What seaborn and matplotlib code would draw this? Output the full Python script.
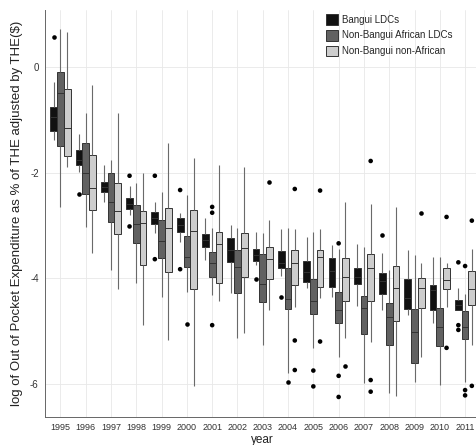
import pandas as pd
import matplotlib
matplotlib.use("Agg")
import matplotlib.pyplot as plt
import seaborn as sns

years = [str(y) for y in range(1995, 2012)]
groups = ["Bangui LDCs", "Non-Bangui African LDCs", "Non-Bangui non-African"]
colors = ["#111111", "#616161", "#cdcdcd"]

# five-number summaries (whisker low, Q1, median, Q3, whisker high)
bangui_lo = [-1.38, -1.98, -2.55, -2.80, -3.15, -3.31, -3.66, -4.28, -3.75, -3.95, -4.19, -4.36, -4.53, -4.60, -4.70, -4.85, -4.60]
bangui_q1 = [-1.22, -1.86, -2.37, -2.69, -2.97, -3.12, -3.40, -3.69, -3.67, -3.81, -4.07, -4.16, -4.11, -4.30, -4.58, -4.60, -4.60]
bangui_med = [-0.94, -1.76, -2.27, -2.59, -2.86, -2.99, -3.28, -3.47, -3.56, -3.72, -3.88, -3.87, -3.97, -4.05, -4.38, -4.22, -4.51]
bangui_q3 = [-0.75, -1.57, -2.17, -2.48, -2.74, -2.86, -3.16, -3.24, -3.45, -3.49, -3.67, -3.61, -3.80, -3.90, -4.02, -4.13, -4.41]
bangui_hi = [-0.28, -1.27, -1.86, -2.25, -2.55, -2.77, -2.86, -2.99, -3.13, -3.07, -3.22, -3.37, -3.36, -3.52, -3.47, -3.59, -4.19]

afr_lo = [-2.65, -3.03, -3.84, -4.09, -4.35, -4.26, -4.32, -5.13, -5.27, -5.80, -5.32, -5.49, -5.98, -6.17, -5.96, -6.02, -5.96]
afr_q1 = [-1.50, -2.41, -2.93, -3.33, -3.62, -3.78, -3.98, -4.28, -4.45, -4.58, -4.68, -4.84, -5.06, -5.27, -5.60, -5.28, -5.15]
afr_med = [-0.50, -2.00, -2.55, -2.97, -3.29, -3.60, -3.71, -3.79, -4.11, -4.39, -4.43, -4.60, -4.56, -4.74, -5.02, -4.92, -4.92]
afr_q3 = [-0.09, -1.43, -2.01, -2.61, -2.90, -3.20, -3.50, -3.47, -3.54, -3.81, -4.02, -4.27, -4.34, -4.47, -4.58, -4.57, -4.62]
afr_hi = [0.72, -0.87, -1.76, -2.20, -2.36, -2.42, -3.05, -3.05, -3.15, -3.05, -3.12, -3.45, -3.40, -3.85, -3.56, -3.60, -4.30]

oth_lo = [-1.89, -3.52, -4.20, -4.89, -5.17, -6.05, -4.44, -5.04, -4.60, -4.55, -4.38, -5.14, -5.20, -6.24, -5.50, -4.54, -5.27]
oth_q1 = [-1.68, -2.71, -3.16, -3.75, -3.88, -4.20, -4.09, -3.98, -4.02, -4.13, -4.16, -4.43, -4.43, -4.82, -4.56, -4.21, -4.51]
oth_med = [-1.15, -2.29, -2.72, -2.96, -3.05, -3.11, -3.35, -3.43, -3.64, -3.72, -3.59, -3.97, -3.80, -4.18, -4.19, -4.04, -4.20]
oth_q3 = [-0.42, -1.67, -2.20, -2.73, -2.67, -2.71, -3.12, -3.14, -3.41, -3.47, -3.47, -3.62, -3.54, -3.76, -4.00, -3.81, -3.86]
oth_hi = [0.67, -0.34, -0.87, -2.01, -1.44, -1.72, -1.86, -1.89, -2.90, -3.07, -3.07, -2.55, -2.59, -2.65, -3.72, -3.72, -3.45]

# outlying points
bangui_out_year = ["1995", "1996", "1998", "1998", "1999", "1999", "2000", "2000", "2003", "2004", "2008", "2011", "2011", "2011"]
bangui_out_val = [0.57, -2.41, -2.06, -3.02, -2.06, -3.64, -2.33, -3.83, -4.02, -4.36, -3.18, -3.70, -4.89, -4.98]
afr_out_year = ["2000", "2001", "2001", "2001", "2004", "2005", "2005", "2006", "2006", "2006", "2011", "2011", "2011"]
afr_out_val = [-4.87, -2.65, -2.76, -4.89, -5.96, -5.75, -6.05, -3.34, -5.85, -6.25, -3.77, -6.12, -6.22]
oth_out_year = ["2003", "2004", "2004", "2004", "2005", "2005", "2006", "2007", "2007", "2007", "2009", "2010", "2010", "2011", "2011"]
oth_out_val = [-2.18, -2.31, -5.18, -5.74, -2.34, -5.20, -5.66, -1.78, -5.93, -6.15, -2.77, -2.84, -5.32, -2.91, -6.04]


def summary_rows(group, lo, q1, med, q3, hi):
    # five points per year -> quartiles land exactly on q1/med/q3
    rows = []
    for i, yr in enumerate(years):
        for v in (lo[i], q1[i], med[i], q3[i], hi[i]):
            rows.append({"year": yr, "value": v, "group": group})
    return rows


box_df = pd.DataFrame(
    summary_rows(groups[0], bangui_lo, bangui_q1, bangui_med, bangui_q3, bangui_hi)
    + summary_rows(groups[1], afr_lo, afr_q1, afr_med, afr_q3, afr_hi)
    + summary_rows(groups[2], oth_lo, oth_q1, oth_med, oth_q3, oth_hi)
)

out_df = pd.concat([
    pd.DataFrame({"year": bangui_out_year, "value": bangui_out_val, "group": groups[0]}),
    pd.DataFrame({"year": afr_out_year, "value": afr_out_val, "group": groups[1]}),
    pd.DataFrame({"year": oth_out_year, "value": oth_out_val, "group": groups[2]}),
])

sns.set_style("whitegrid")
plt.rcParams["font.family"] = ["Liberation Sans", "DejaVu Sans"]
plt.rcParams["axes.unicode_minus"] = False

fig = plt.figure(figsize=(4.76, 4.45), dpi=100)
ax = fig.add_axes([0.0945, 0.0629, 0.915, 0.9146])

sns.boxplot(data=box_df, x="year", y="value", hue="group", order=years, hue_order=groups,
            palette=colors, whis=(0, 100), showfliers=False, showcaps=False, width=0.8,
            linecolor="#333333", linewidth=0.7,
            whiskerprops={"color": "#6a6a6a", "linewidth": 0.8}, ax=ax)
handles, labels = ax.get_legend_handles_labels()

sns.stripplot(data=out_df, x="year", y="value", hue="group", order=years, hue_order=groups,
              dodge=True, jitter=False, palette={g: "black" for g in groups},
              size=3.3, linewidth=0, legend=False, ax=ax)

ax.set_xlim(-0.61, 16.61)
ax.set_ylim(-6.63, 1.08)
ax.set_yticks([0, -2, -4, -6])

ax.grid(True, axis="both", color="#e8e8e8", linewidth=0.6)
ax.set_axisbelow(True)
for side in ["top", "right"]:
    ax.spines[side].set_visible(False)
for side in ["left", "bottom"]:
    ax.spines[side].set_color("#666666")
    ax.spines[side].set_linewidth(0.7)
ax.tick_params(axis="both", length=2.5, width=0.6, color="#666666", labelcolor="#333333", pad=2)
ax.tick_params(axis="x", labelsize=6.5)
ax.tick_params(axis="y", labelsize=7)

ax.set_xlabel("year", fontsize=8.5, color="#222222", labelpad=1)
ax.set_ylabel("log of Out of Pocket Expenditure as % of THE adjusted by THE($)",
              fontsize=9.5, color="#222222", labelpad=5)

ax.legend(handles[:3], labels[:3], loc="upper left", bbox_to_anchor=(0.64, 0.995),
          frameon=False, fontsize=7, handlelength=1.3, handleheight=1.3,
          handletextpad=0.4, labelspacing=0.55, borderaxespad=0, borderpad=0.2)

fig.savefig("out.png", dpi=100)
